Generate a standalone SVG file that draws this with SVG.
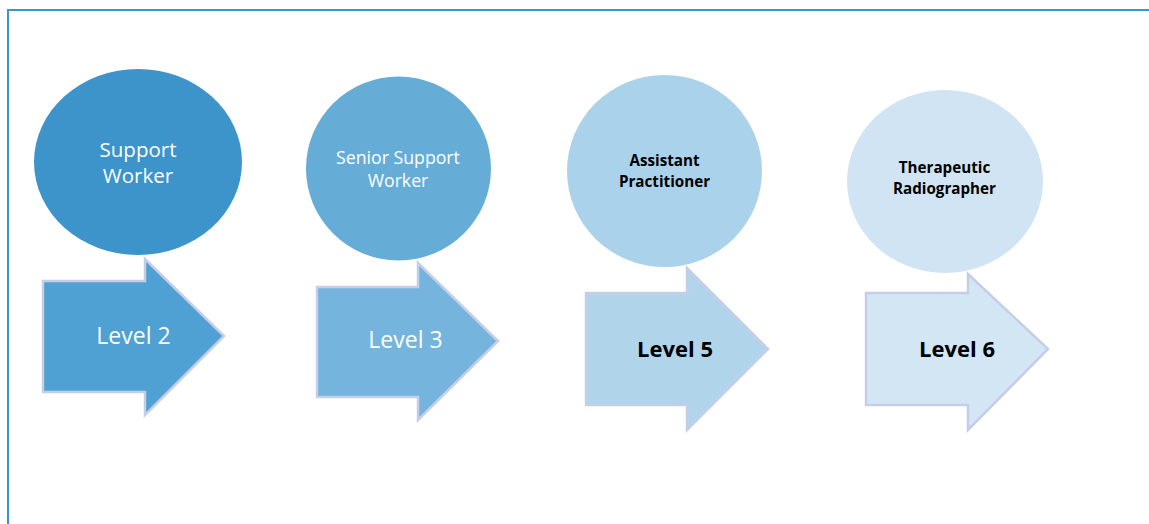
<svg xmlns="http://www.w3.org/2000/svg" width="1149" height="524" viewBox="0 0 1149 524">
  <style>
    .frame { fill: none; stroke: #3c95cb; stroke-width: 2; }
    .arrow { stroke: #c6cde9; stroke-width: 2.5; stroke-linejoin: miter; }
    .lt { font-family: "Open Sans", "Liberation Sans", sans-serif; text-anchor: middle; fill: #ffffff; }
    .dk { font-family: "Open Sans", "Liberation Sans", sans-serif; text-anchor: middle; fill: #000000; font-weight: bold; }
  </style>
  <rect width="1149" height="524" fill="#ffffff"/>
  <!-- outer frame: left and top edges only -->
  <path class="frame" d="M8,524 V10 H1149"/>

  <!-- role circles -->
  <g id="support-worker">
    <ellipse cx="138" cy="162" rx="104" ry="93" fill="#3c94ca"/>
    <text class="lt" font-size="20.5" x="138" y="157">Support</text>
    <text class="lt" font-size="20.5" x="138" y="183">Worker</text>
  </g>
  <g id="senior-support-worker">
    <ellipse cx="398.5" cy="168.5" rx="92.5" ry="92" fill="#65add7"/>
    <text class="lt" font-size="17.7" x="398" y="164">Senior Support</text>
    <text class="lt" font-size="17.7" x="398" y="187">Worker</text>
  </g>
  <g id="assistant-practitioner">
    <ellipse cx="664.5" cy="171" rx="97.5" ry="96" fill="#aad2ea"/>
    <text class="dk" font-size="15.2" x="664.5" y="166">Assistant</text>
    <text class="dk" font-size="15.2" x="664.5" y="187">Practitioner</text>
  </g>
  <g id="therapeutic-radiographer">
    <ellipse cx="945" cy="181.5" rx="98" ry="91.5" fill="#d0e4f3"/>
    <text class="dk" font-size="15.2" x="944.5" y="173">Therapeutic</text>
    <text class="dk" font-size="15.2" x="944.5" y="194">Radiographer</text>
  </g>

  <!-- level arrows -->
  <g id="connectors">
    <g id="level-2">
      <path class="arrow" fill="#4fa0d3" d="M43,281 H145 V259 L224,336 L145,415 V392 H43 Z"/>
      <text class="lt" font-size="23" x="133.5" y="344">Level 2</text>
    </g>
    <g id="level-3">
      <path class="arrow" fill="#75b4dc" d="M317,287 H418 V263 L498,341 L418,420 V397 H317 Z"/>
      <text class="lt" font-size="23" x="405.5" y="348">Level 3</text>
    </g>
    <g id="level-5">
      <path class="arrow" fill="#b0d5eb" d="M586,293 H687 V268 L768,349 L687,430 V405 H586 Z"/>
      <text class="dk" font-size="22" x="675" y="357">Level 5</text>
    </g>
    <g id="level-6">
      <path class="arrow" fill="#d3e6f4" d="M866,293 H968 V274 L1048,349 L968,430 V405 H866 Z"/>
      <text class="dk" font-size="22" x="957" y="357">Level 6</text>
    </g>
  </g>
</svg>
